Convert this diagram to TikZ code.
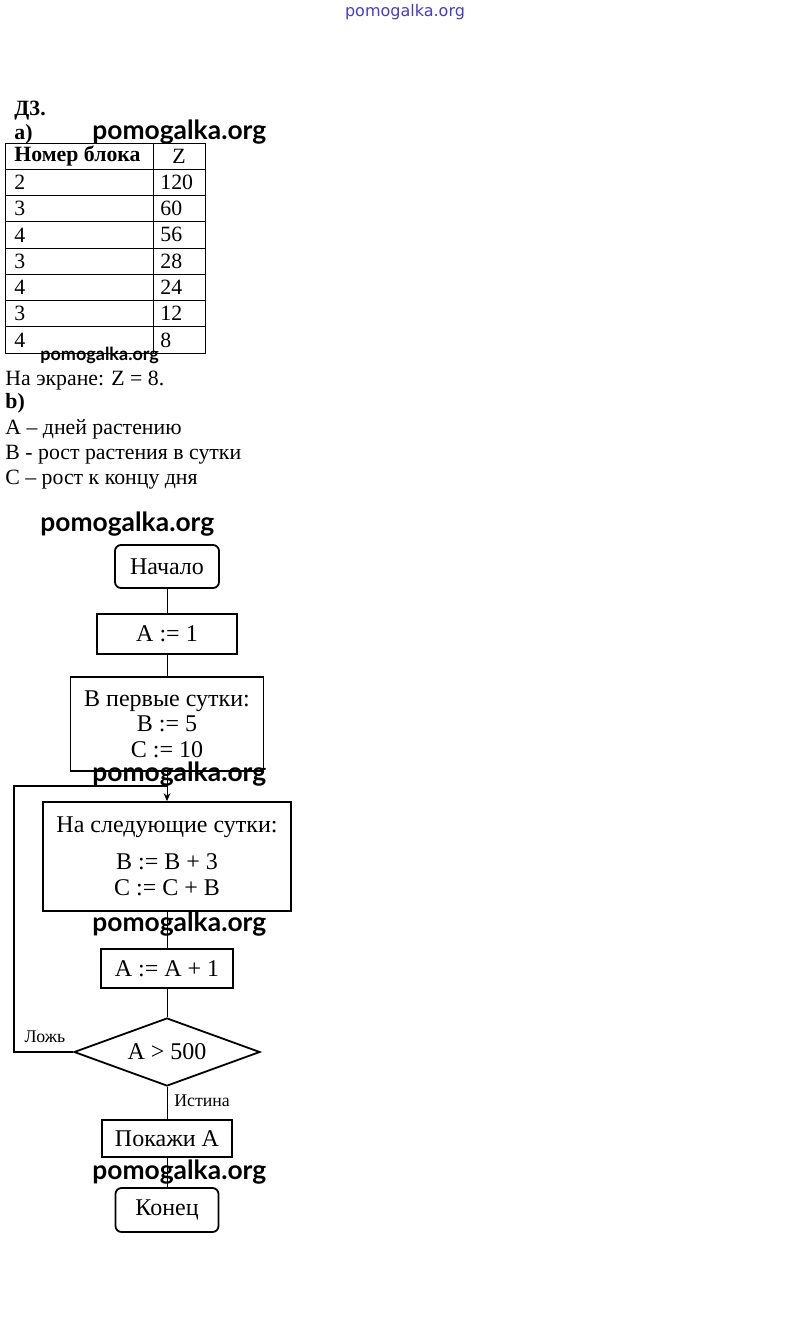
\documentclass[tikz,border=0pt]{standalone}
\usepackage{fontspec}
\setmainfont{Liberation Serif}
\newfontfamily\wmfont{Lato}
\newfontfamily\topfont{DejaVu Sans}
\usetikzlibrary{shapes.geometric,arrows.meta}
\definecolor{wmblue}{RGB}{70,60,200}
\begin{document}
\begin{tikzpicture}[x=0.5pt,y=-0.5pt,
    txt/.style={font=\fontsize{10.9}{12}\selectfont, inner sep=0pt, anchor=base west},
    cell/.style={font=\fontsize{10.9}{12}\selectfont, inner sep=0pt, anchor=west},
    blk/.style={draw, line width=0.9pt, inner sep=0pt, align=center,
      font=\fontsize{12}{13.25}\selectfont},
    term/.style={blk, rounded corners=3pt},
    wmark/.style={font=\wmfont\bfseries\fontsize{13.2}{14}\selectfont, inner sep=0pt, anchor=north west},
    lbl/.style={font=\fontsize{8.9}{9}\selectfont, inner sep=0pt}]
  \useasboundingbox (0,0) rectangle (809,1340);

  % watermark on top
  \node[font=\topfont\fontsize{8}{8}\selectfont, text=wmblue, inner sep=0pt] (site) at (405,12) {pomogalka.org};

  % task a)
  \node[txt, font=\bfseries\fontsize{10.9}{12}\selectfont] (task) at (14,115) {Д3.};
  \node[txt, font=\bfseries\fontsize{10.9}{12}\selectfont] (parta) at (14,139) {a)};

  %table
  \draw[line width=0.5pt] (5,143) rectangle (205,353);
  \draw[line width=0.5pt] (153,143) -- (153,353);
  \foreach \k in {1,...,7} {
      \draw[line width=0.5pt] (5,{143+26.25*\k}) -- (205,{143+26.25*\k});
    }
  \node[cell, font=\bfseries\fontsize{10.9}{12}\selectfont] (hnum) at (14,156.5) {Номер блока};
  \node[cell, anchor=center] (hz) at (179,156.5) {Z};
  \foreach \n/\z [count=\i] in {2/120,3/60,4/56,3/28,4/24,3/12,4/8} {
      \node[cell] (num\i) at (14,{143+26.25*\i+13.1}) {\n};
      \node[cell] (z\i) at (160,{143+26.25*\i+13.1}) {\z};
    }

  \node[txt] (screen) at (5,385) {На экране: Z = 8.};
  \node[txt, font=\bfseries\fontsize{10.9}{12}\selectfont] (partb) at (5,408) {b)};
  \node[txt] (varA) at (5,434) {A -- дней растению};
  \node[txt] (varB) at (5,459) {B - рост растения в сутки};
  \node[txt] (varC) at (5,484) {C -- рост к концу дня};

  % flowchart
  \node[term, minimum width=52pt, minimum height=21.5pt] (start) at (167,566.5) {Начало};
  \node[blk, minimum width=70pt, minimum height=20pt] (setA) at (167,634) {A := 1};
  \node[blk, minimum width=96.5pt, minimum height=47pt,
    font=\fontsize{12}{12.8}\selectfont] (first) at (167,724)
    {В первые сутки:\\B := 5\\C := 10};
  \node[blk, minimum width=124pt, minimum height=54.5pt] (next) at (167,856.5)
    {На следующие сутки:\\[5pt]B := B + 3\\C := C + B};
  \node[blk, minimum width=66pt, minimum height=19.5pt] (incA) at (167,968.5) {A := A + 1};
  \node[blk, diamond, aspect=2.74, minimum width=93pt, minimum height=34pt] (check) at (167,1052) {A > 500};
  \node[blk, minimum width=65pt, minimum height=18.5pt] (show) at (167,1138.5) {Покажи A};
  \node[term, minimum width=51.5pt, minimum height=22pt] (stop) at (167,1210) {Конец};

  \coordinate (join) at (167,786);
  \coordinate (back) at (14,786);

  \draw[line width=0.5pt] (start) -- (setA);
  \draw[line width=0.5pt] (setA) -- (first);
  \draw[line width=0.5pt] (first) -- (join);
  \draw[line width=0.5pt, -{Stealth[length=4pt,width=3.5pt]}] (join) -- (next);
  \draw[line width=0.5pt] (next) -- (incA);
  \draw[line width=0.5pt] (incA) -- (check);
  \draw[line width=0.9pt] (check.west) -| (back) -- (join);
  \draw[line width=0.5pt] (check) -- (show);
  \draw[line width=0.5pt] (show) -- (stop);
  \node[lbl] (no) at (45,1037) {Ложь};
  \node[lbl] (yes) at (202,1101) {Истина};

  % watermarks
  \node[wmark] (wm1) at (92,119) {pomogalka.org};
  \node[wmark, font=\wmfont\bfseries\fontsize{9}{10}\selectfont] (wm2) at (40,347) {pomogalka.org};
  \node[wmark] (wm3) at (40,511) {pomogalka.org};
  \node[wmark] (wm4) at (92,761) {pomogalka.org};
  \node[wmark] (wm5) at (92,911) {pomogalka.org};
  \node[wmark] (wm6) at (92,1159) {pomogalka.org};
\end{tikzpicture}
\end{document}
